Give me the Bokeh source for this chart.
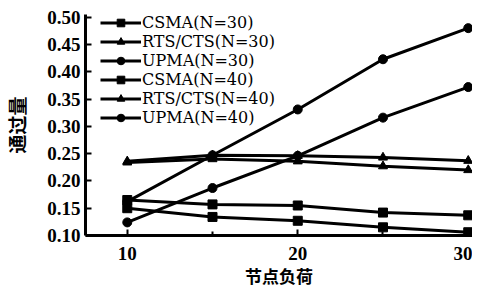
from bokeh.plotting import figure
from bokeh.models import Range1d, FixedTicker, NumeralTickFormatter, Legend, LegendItem
from bokeh.embed import file_html
from bokeh.resources import INLINE

# ---- data ----
node_load = [10, 15, 20, 25, 30]
csma_30 = [0.165, 0.157, 0.155, 0.142, 0.137]
rts_30 = [0.236, 0.247, 0.246, 0.243, 0.237]
upma_30 = [0.124, 0.187, 0.246, 0.316, 0.372]
csma_40 = [0.150, 0.134, 0.127, 0.115, 0.106]
rts_40 = [0.234, 0.240, 0.236, 0.227, 0.220]
upma_40 = [0.162, 0.247, 0.331, 0.423, 0.480]
series_labels = ["CSMA(N=30)", "RTS/CTS(N=30)", "UPMA(N=30)",
                 "CSMA(N=40)", "RTS/CTS(N=40)", "UPMA(N=40)"]
series_values = [csma_30, rts_30, upma_30, csma_40, rts_40, upma_40]
series_markers = ["square", "triangle", "circle", "square", "triangle", "circle"]
y_ticks = [0.10, 0.15, 0.20, 0.25, 0.30, 0.35, 0.40, 0.45, 0.50]
x_ticks = [10, 20, 30]
x_minor = [15, 25]

SERIF = "'Liberation Serif', 'Times New Roman', serif"

p = figure(frame_width=387, frame_height=221, output_backend="svg",
           toolbar_location=None, x_range=Range1d(7.55, 30.25),
           y_range=Range1d(0.10, 0.505),
           min_border_left=77, min_border_top=14, min_border_right=0,
           min_border_bottom=10)
p.outline_line_color = None
p.xgrid.grid_line_color = None
p.ygrid.grid_line_color = None
p.background_fill_color = "white"

items = []
for lab, vals, mk in zip(series_labels, series_values, series_markers):
    r1 = p.line(node_load, vals, line_color="black", line_width=3)
    r2 = p.scatter(node_load, vals, marker=mk, size=9, fill_color="black",
                   line_color="black")
    items.append(LegendItem(label=lab, renderers=[r1, r2]))

legend = Legend(items=items, location=(15, 108), padding=0, margin=0,
                spacing=0, label_height=19, glyph_height=19, glyph_width=41,
                label_standoff=1, border_line_color=None,
                background_fill_alpha=0,
                label_text_font="DejaVu Serif", label_text_font_size="16px",
                label_text_color="black")
p.add_layout(legend, "center")

ax = p.xaxis[0]
ax.ticker = FixedTicker(ticks=x_ticks, minor_ticks=x_minor)
ay = p.yaxis[0]
ay.ticker = FixedTicker(ticks=y_ticks)
ay.formatter = NumeralTickFormatter(format="0.00")

for a in (ax, ay):
    a.axis_line_width = 3
    a.axis_line_color = "black"
    a.major_tick_in = 6
    a.major_tick_out = 0
    a.minor_tick_in = 4
    a.minor_tick_out = 0
    a.major_tick_line_width = 2
    a.minor_tick_line_width = 2
    a.major_label_text_font = SERIF
    a.major_label_text_font_style = "bold"
    a.major_label_text_font_size = "19px"
    a.major_label_text_color = "black"
    a.axis_label_text_font = "Noto Sans CJK SC"
    a.axis_label_text_font_style = "bold"
    a.axis_label_text_font_size = "17px"
    a.axis_label_text_color = "black"
ay.minor_tick_in = 0
ay.axis_label_text_font_size = "19px"

ax.axis_label = "节点负荷"
ay.axis_label = "通过量"
ax.major_label_standoff = 11
ax.axis_label_standoff = 0
ay.major_label_standoff = 5
ay.axis_label_standoff = 14

open("out.html", "w").write(file_html(p, INLINE))
